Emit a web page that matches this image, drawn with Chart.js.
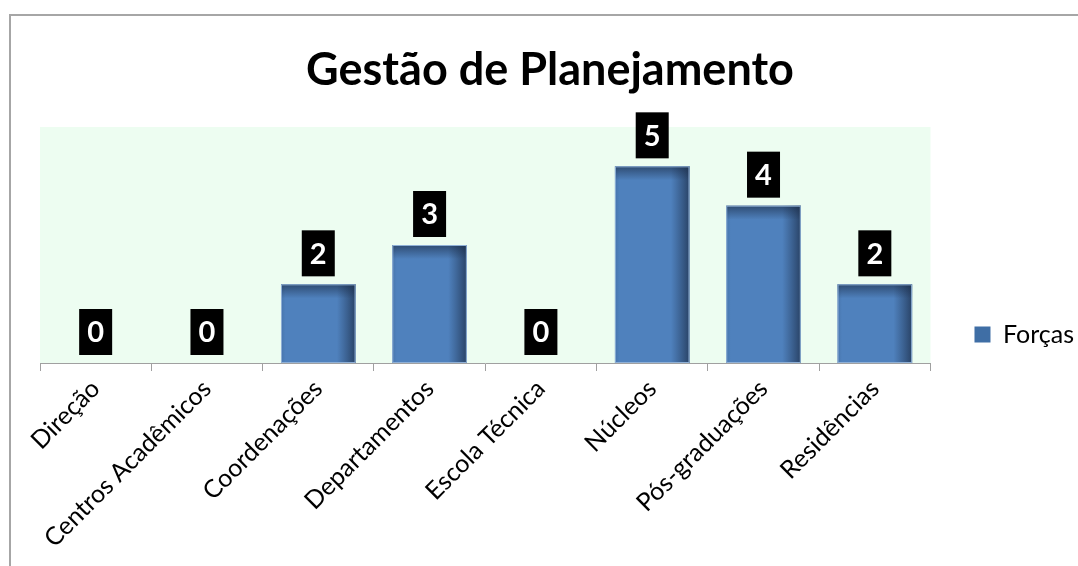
<!DOCTYPE html>
<html>
<head>
<meta charset="utf-8">
<script src="https://cdn.jsdelivr.net/npm/chart.js@4/dist/chart.umd.min.js"></script>
<style>
  body { margin: 0; background: #fff; }
  #frame { position: absolute; left: 9px; top: 14px; width: 2000px; height: 2000px;
           border-left: 2px solid #a6a6a6; border-top: 2px solid #a6a6a6; }
  #miGrafico { position: absolute; left: 0; top: 0; }
</style>
</head>
<body>
<div id="frame"></div>
<canvas id="miGrafico" width="1078" height="566"></canvas>
<script>
// datos del grafico
const categorias = ['Direção', 'Centros Acadêmicos', 'Coordenações', 'Departamentos',
                    'Escola Técnica', 'Núcleos', 'Pós-graduações', 'Residências'];
const forcas = [0, 0, 2, 3, 0, 5, 4, 2];
const tituloTexto = 'Gestão de Planejamento';
const serieNome = 'Forças';

// fondo verde del area del grafico
const fondoArea = {
    id: 'fondoArea',
    beforeDraw(chart) {
        const a = chart.chartArea;
        const c = chart.ctx;
        c.save();
        c.fillStyle = '#edfdf1';
        c.fillRect(a.left, a.top, a.right - a.left, a.bottom - a.top);
        c.restore();
    }
};

// mover un poco la leyenda hacia la derecha
const moverLeyenda = {
    id: 'moverLeyenda',
    afterLayout(chart) {
        const lg = chart.legend;
        lg.left += 24;
        lg.right += 24;
        lg.top += 4;
        lg.bottom += 4;
    }
};

// sombreado de las barras y etiquetas negras
const sombraEtiquetas = {
    id: 'sombraEtiquetas',
    afterDatasetsDraw(chart) {
        const c = chart.ctx;
        const meta = chart.getDatasetMeta(0);
        meta.data.forEach((bar, i) => {
            const left = bar.x - bar.width / 2;
            const right = bar.x + bar.width / 2;
            const top = bar.y;
            const h = bar.base - bar.y;
            c.save();
            if (h > 1) {
                let g = c.createLinearGradient(left, 0, right, 0);
                g.addColorStop(0, 'rgba(30,50,80,0.15)');
                g.addColorStop(0.06, 'rgba(30,50,80,0)');
                g.addColorStop(0.75, 'rgba(30,50,80,0)');
                g.addColorStop(1, 'rgba(25,40,65,0.7)');
                c.fillStyle = g;
                c.fillRect(left, top, bar.width, h);
                let g2 = c.createLinearGradient(0, top, 0, top + 14);
                g2.addColorStop(0, 'rgba(25,40,65,0.6)');
                g2.addColorStop(1, 'rgba(25,40,65,0)');
                c.fillStyle = g2;
                c.fillRect(left, top, bar.width, 14);
                c.strokeStyle = '#8fb0d6';
                c.lineWidth = 1;
                c.strokeRect(left + 0.5, top + 0.5, bar.width - 1, h - 1);
            }
            // etiqueta
            const bw = 33, bh = 46;
            const by = top - 8 - bh;
            c.fillStyle = '#000';
            c.fillRect(bar.x - bw / 2, by, bw, bh);
            c.fillStyle = '#fff';
            c.font = 'bold 29px Lato';
            c.textAlign = 'center';
            c.textBaseline = 'middle';
            c.fillText(String(forcas[i]), bar.x, by + bh / 2 + 1);
            c.restore();
        });
    }
};

window.onload = function () {
    const ctx = document.getElementById('miGrafico').getContext('2d');
    new Chart(ctx, {
        type: 'bar',
        data: {
            labels: categorias,
            datasets: [{
                label: serieNome,
                data: forcas,
                backgroundColor: '#4f81bd',
                categoryPercentage: 1,
                barPercentage: 0.67
            }]
        },
        options: {
            responsive: false,
            animation: false,
            layout: { padding: { left: 40, right: 18, top: 0, bottom: 0 } },
            plugins: {
                title: {
                    display: true,
                    text: tituloTexto,
                    color: '#000',
                    font: { family: 'Lato', size: 45, weight: 'bold' },
                    padding: { top: 43, bottom: 30 }
                },
                legend: {
                    position: 'right',
                    align: 'end',
                    fullSize: false,
                    labels: {
                        color: '#000',
                        font: { family: 'Lato', size: 25 },
                        boxWidth: 16,
                        boxHeight: 16,
                        padding: 20,
                        generateLabels(chart) {
                            return [{
                                text: serieNome,
                                fillStyle: '#3f6ea5',
                                strokeStyle: '#3f6ea5',
                                lineWidth: 0,
                                datasetIndex: 0
                            }];
                        }
                    }
                },
                tooltip: { enabled: false }
            },
            scales: {
                x: {
                    offset: true,
                    grid: {
                        offset: true,
                        drawOnChartArea: false,
                        drawTicks: true,
                        tickLength: 8,
                        color: '#a0a0a0'
                    },
                    border: { color: '#a0a0a0' },
                    ticks: {
                        color: '#000',
                        font: { family: 'Lato', size: 25 },
                        minRotation: 45,
                        maxRotation: 45,
                        autoSkip: false
                    },
                    afterFit(scale) { scale.height = 203; }
                },
                y: {
                    display: false,
                    min: 0,
                    max: 6
                }
            }
        },
        plugins: [fondoArea, moverLeyenda, sombraEtiquetas]
    });
};
</script>
</body>
</html>
